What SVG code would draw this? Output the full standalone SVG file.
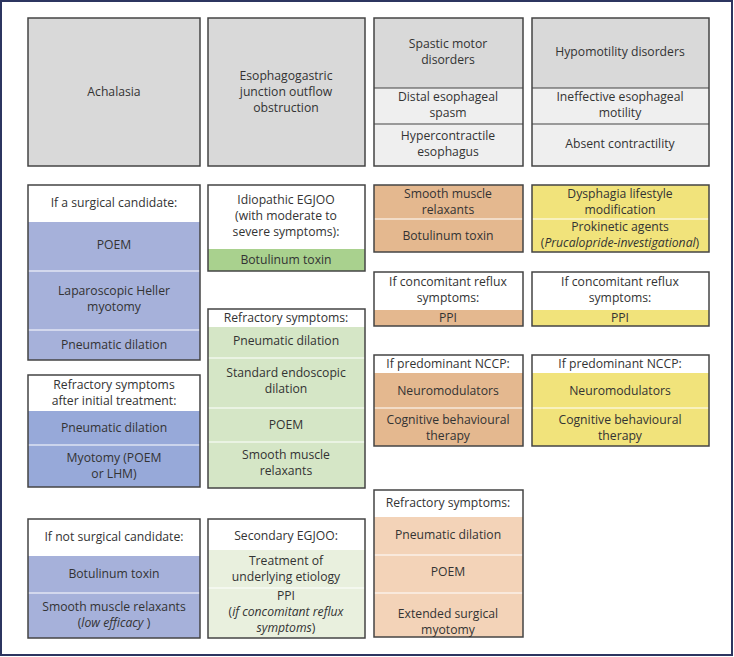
<svg xmlns="http://www.w3.org/2000/svg" width="734" height="657" viewBox="0 0 734 657">
<style>
text{font-family:"Open Sans","Noto Sans",sans-serif;font-size:12.2px;fill:#333;text-anchor:middle}
.b{fill:none;stroke:#444;stroke-width:1.5}
.s{stroke:#fff;stroke-width:1.2}
.sg{stroke:#444;stroke-width:1.2}
.w{fill:#fff}.g{fill:#d9d9d9}.gl{fill:#efefef}
.bl{fill:#a6b1da}.bd{fill:#97a9d9}
.gr{fill:#a9d18e}.gm{fill:#d5e6c6}.gx{fill:#e9f0de}
.o{fill:#e4b88f}.ol{fill:#f3d3b8}.y{fill:#f1e37b}
</style>
<rect x="1" y="1" width="731" height="654" fill="#fff" stroke="#2c3560" stroke-width="2"/>
<g id="achalasia"><rect class="g" x="28" y="18" width="172" height="148"/><rect class="b" x="28" y="18" width="172" height="148"/><text x="114" y="96">Achalasia</text></g>
<g id="egjoo"><rect class="g" x="208" y="18" width="157" height="148"/><rect class="b" x="208" y="18" width="157" height="148"/><text x="286" y="80">Esophagogastric</text><text x="286" y="96">junction outflow</text><text x="286" y="112">obstruction</text></g>
<g id="spastic"><rect class="g" x="374" y="18" width="149" height="70"/><rect class="gl" x="374" y="88" width="149" height="78"/><line class="sg" x1="374" y1="88" x2="523" y2="88"/><line class="sg" x1="374" y1="124" x2="523" y2="124"/><rect class="b" x="374" y="18" width="149" height="148"/>
<text x="448" y="48">Spastic motor</text><text x="448" y="64">disorders</text><text x="448" y="101">Distal esophageal</text><text x="448" y="117">spasm</text><text x="448" y="140">Hypercontractile</text><text x="448" y="156">esophagus</text></g>
<g id="hypo"><rect class="g" x="532" y="18" width="177" height="70"/><rect class="gl" x="532" y="88" width="177" height="78"/><line class="sg" x1="532" y1="88" x2="709" y2="88"/><line class="sg" x1="532" y1="124" x2="709" y2="124"/><rect class="b" x="532" y="18" width="177" height="148"/>
<text x="620" y="56">Hypomotility disorders</text><text x="620" y="101">Ineffective esophageal</text><text x="620" y="117">motility</text><text x="620" y="148">Absent contractility</text></g>
<g id="surgical"><rect class="w" x="28" y="185" width="172" height="37"/><rect class="bl" x="28" y="222" width="172" height="138"/><line class="s" x1="28" y1="271" x2="200" y2="271"/><line class="s" x1="28" y1="330" x2="200" y2="330"/><rect class="b" x="28" y="185" width="172" height="175"/>
<text x="114" y="207">If a surgical candidate:</text><text x="114" y="249">POEM</text><text x="114" y="295">Laparoscopic Heller</text><text x="114" y="311">myotomy</text><text x="114" y="349">Pneumatic dilation</text></g>
<g id="refr1"><rect class="w" x="28" y="375" width="172" height="36"/><rect class="bd" x="28" y="411" width="172" height="76"/><line class="s" x1="28" y1="445" x2="200" y2="445"/><rect class="b" x="28" y="375" width="172" height="112"/>
<text x="114" y="389">Refractory symptoms</text><text x="114" y="405">after initial treatment:</text><text x="114" y="432">Pneumatic dilation</text><text x="114" y="462">Myotomy (POEM</text><text x="114" y="478">or LHM)</text></g>
<g id="notsurg"><rect class="w" x="28" y="519" width="172" height="37"/><rect class="bl" x="28" y="556" width="172" height="82"/><line class="s" x1="28" y1="593" x2="200" y2="593"/><rect class="b" x="28" y="519" width="172" height="119"/>
<text x="114" y="541">If not surgical candidate:</text><text x="114" y="578">Botulinum toxin</text><text x="114" y="611">Smooth muscle relaxants</text><text x="114" y="627">(<tspan font-style="italic">low efficacy</tspan> )</text></g>
<g id="idio"><rect class="w" x="208" y="185" width="157" height="64"/><rect class="gr" x="208" y="249" width="157" height="22"/><rect class="b" x="208" y="185" width="157" height="86"/>
<text x="286" y="204">Idiopathic EGJOO</text><text x="286" y="220">(with moderate to</text><text x="286" y="236">severe symptoms):</text><text x="286" y="264">Botulinum toxin</text></g>
<g id="refr2"><rect class="w" x="208" y="309" width="157" height="18"/><rect class="gm" x="208" y="327" width="157" height="161"/><line class="s" x1="208" y1="358" x2="365" y2="358"/><line class="s" x1="208" y1="408" x2="365" y2="408"/><line class="s" x1="208" y1="442" x2="365" y2="442"/><rect class="b" x="208" y="309" width="157" height="179"/>
<text x="286" y="322">Refractory symptoms:</text><text x="286" y="345">Pneumatic dilation</text><text x="286" y="377">Standard endoscopic</text><text x="286" y="393">dilation</text><text x="286" y="429">POEM</text><text x="286" y="459">Smooth muscle</text><text x="286" y="475">relaxants</text></g>
<g id="second"><rect class="w" x="208" y="519" width="157" height="31"/><rect class="gx" x="208" y="550" width="157" height="88"/><line class="s" x1="208" y1="588" x2="365" y2="588"/><rect class="b" x="208" y="519" width="157" height="119"/>
<text x="286" y="540">Secondary EGJOO:</text><text x="286" y="565">Treatment of</text><text x="286" y="581">underlying etiology</text><text x="286" y="600">PPI</text><text x="286" y="616">(<tspan font-style="italic">if concomitant reflux</tspan></text><text x="286" y="632"><tspan font-style="italic">symptoms</tspan>)</text></g>
<g id="smooth3"><rect class="o" x="374" y="185" width="149" height="67"/><line class="s" x1="374" y1="219" x2="523" y2="219"/><rect class="b" x="374" y="185" width="149" height="67"/>
<text x="448" y="198">Smooth muscle</text><text x="448" y="214">relaxants</text><text x="448" y="240">Botulinum toxin</text></g>
<g id="dysph"><rect class="y" x="532" y="185" width="177" height="67"/><line class="s" x1="532" y1="219" x2="709" y2="219"/><rect class="b" x="532" y="185" width="177" height="67"/>
<text x="620" y="198">Dysphagia lifestyle</text><text x="620" y="214">modification</text><text x="620" y="231">Prokinetic agents</text><text x="620" y="247">(<tspan font-style="italic">Prucalopride-investigational</tspan>)</text></g>
<g id="reflux3"><rect class="w" x="374" y="272" width="149" height="38"/><rect class="o" x="374" y="310" width="149" height="16"/><rect class="b" x="374" y="272" width="149" height="54"/>
<text x="448" y="286">If concomitant reflux</text><text x="448" y="302">symptoms:</text><text x="448" y="322">PPI</text></g>
<g id="reflux4"><rect class="w" x="532" y="272" width="177" height="38"/><rect class="y" x="532" y="310" width="177" height="16"/><rect class="b" x="532" y="272" width="177" height="54"/>
<text x="620" y="286">If concomitant reflux</text><text x="620" y="302">symptoms:</text><text x="620" y="322">PPI</text></g>
<g id="nccp3"><rect class="w" x="374" y="355" width="149" height="18"/><rect class="o" x="374" y="373" width="149" height="73"/><line class="s" x1="374" y1="408" x2="523" y2="408"/><rect class="b" x="374" y="355" width="149" height="91"/>
<text x="448" y="368">If predominant NCCP:</text><text x="448" y="395">Neuromodulators</text><text x="448" y="424">Cognitive behavioural</text><text x="448" y="440">therapy</text></g>
<g id="nccp4"><rect class="w" x="532" y="355" width="177" height="18"/><rect class="y" x="532" y="373" width="177" height="73"/><line class="s" x1="532" y1="408" x2="709" y2="408"/><rect class="b" x="532" y="355" width="177" height="91"/>
<text x="620" y="368">If predominant NCCP:</text><text x="620" y="395">Neuromodulators</text><text x="620" y="424">Cognitive behavioural</text><text x="620" y="440">therapy</text></g>
<g id="refr3"><rect class="w" x="374" y="490" width="149" height="27"/><rect class="ol" x="374" y="517" width="149" height="120"/><line class="s" x1="374" y1="555" x2="523" y2="555"/><line class="s" x1="374" y1="593" x2="523" y2="593"/><rect class="b" x="374" y="490" width="149" height="147"/>
<text x="448" y="507">Refractory symptoms:</text><text x="448" y="539">Pneumatic dilation</text><text x="448" y="576">POEM</text><text x="448" y="618">Extended surgical</text><text x="448" y="634">myotomy</text></g>
<g id="connectors"></g>
</svg>
